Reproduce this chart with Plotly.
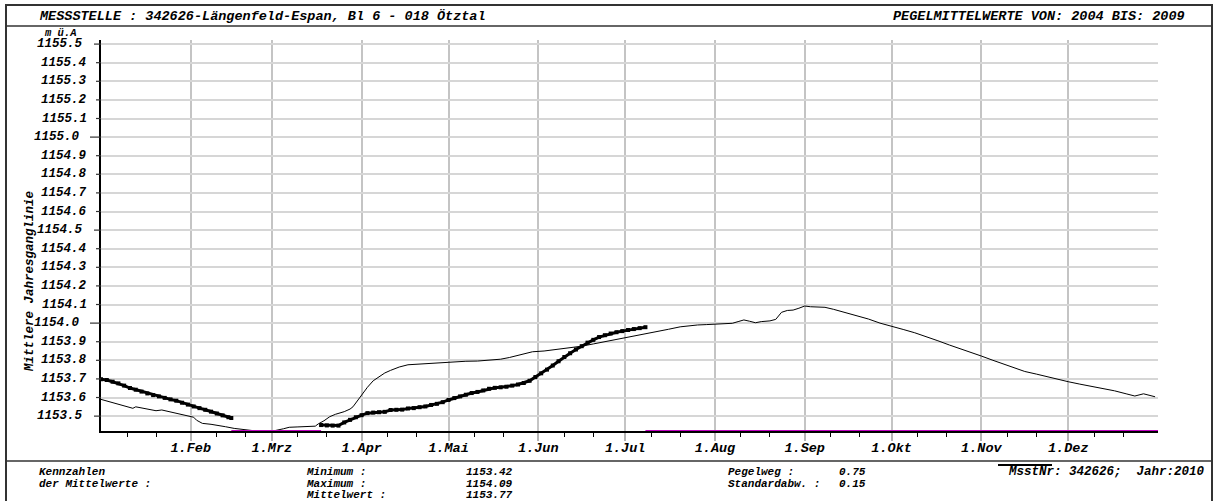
import pandas as pd
import plotly.graph_objects as go

# ---- data -------------------------------------------------------------
YEAR_START = pd.Timestamp("2010-01-01")

# mean annual hydrograph 2004-2009 (day of year, m ü.A.)
mean_days = [0, 4, 8, 11, 12, 15, 19, 21, 24, 26, 30, 32, 33, 35, 38, 40, 43, 46, 50, 53,
             56, 58, 60, 63, 65, 68, 72, 74, 75, 77, 79, 81, 84, 86, 87, 88, 90, 92, 94, 96,
             98, 100, 103, 106, 110, 114, 118, 122, 126, 130, 134, 138, 141, 145, 149, 153,
             158, 162, 166, 170, 174, 178, 181, 185, 189, 192, 196, 200, 203, 206, 209, 212,
             215, 218, 220, 222, 224, 226, 228, 231, 233, 235, 237, 239, 241, 243, 245, 248,
             250, 253, 257, 261, 265, 269, 273, 277, 281, 285, 289, 293, 297, 301, 304, 308,
             312, 316, 319, 323, 327, 331, 334, 338, 342, 346, 350, 354, 357, 360, 362, 364]
mean_level = [1153.590, 1153.572, 1153.556, 1153.542, 1153.550, 1153.540, 1153.529, 1153.533,
              1153.522, 1153.515, 1153.500, 1153.494, 1153.478, 1153.461, 1153.456, 1153.452,
              1153.443, 1153.434, 1153.425, 1153.421, 1153.420, 1153.420, 1153.422, 1153.432,
              1153.440, 1153.442, 1153.443, 1153.446, 1153.458, 1153.475, 1153.497, 1153.510,
              1153.524, 1153.538, 1153.550, 1153.572, 1153.615, 1153.655, 1153.690, 1153.712,
              1153.732, 1153.746, 1153.764, 1153.776, 1153.780, 1153.785, 1153.790, 1153.794,
              1153.795, 1153.796, 1153.800, 1153.806, 1153.815, 1153.830, 1153.846, 1153.850,
              1153.859, 1153.866, 1153.876, 1153.888, 1153.900, 1153.912, 1153.922, 1153.932,
              1153.942, 1153.952, 1153.967, 1153.980, 1153.986, 1153.990, 1153.992, 1153.995,
              1153.996, 1153.999, 1154.008, 1154.017, 1154.010, 1154.002, 1154.008, 1154.012,
              1154.020, 1154.058, 1154.068, 1154.070, 1154.080, 1154.092, 1154.088, 1154.085,
              1154.085, 1154.074, 1154.056, 1154.042, 1154.022, 1154.000, 1153.981, 1153.966,
              1153.948, 1153.928, 1153.905, 1153.882, 1153.862, 1153.840, 1153.823, 1153.800,
              1153.778, 1153.757, 1153.740, 1153.726, 1153.710, 1153.695, 1153.685, 1153.672,
              1153.660, 1153.650, 1153.636, 1153.620, 1153.608, 1153.620, 1153.612, 1153.604]

# current year 2010, first block (January to mid February)
y2010_a_days = [0, 2, 4, 6, 8, 10, 12, 14, 16, 18, 20, 22, 24, 26, 28, 30, 32, 34, 36, 38,
                40, 42, 44, 45]
y2010_a_level = [1153.698, 1153.694, 1153.685, 1153.676, 1153.664, 1153.651, 1153.642,
                 1153.632, 1153.622, 1153.613, 1153.606, 1153.598, 1153.590, 1153.583,
                 1153.572, 1153.562, 1153.552, 1153.543, 1153.534, 1153.524, 1153.514,
                 1153.504, 1153.494, 1153.490]

# current year 2010, second block (mid March to early July)
y2010_b_days = [76, 78, 80, 82, 84, 86, 88, 90, 92, 94, 96, 98, 100, 102, 104, 106, 108, 110,
                112, 114, 116, 118, 120, 122, 124, 126, 128, 130, 132, 134, 136, 138, 140, 142,
                144, 146, 148, 150, 152, 154, 156, 158, 160, 162, 164, 166, 168, 170, 172, 174,
                176, 178, 180, 182, 184, 186, 188]
y2010_b_level = [1153.452, 1153.450, 1153.449, 1153.449, 1153.466, 1153.480, 1153.494, 1153.505,
                 1153.516, 1153.519, 1153.521, 1153.523, 1153.533, 1153.534, 1153.535, 1153.541,
                 1153.543, 1153.548, 1153.552, 1153.560, 1153.566, 1153.575, 1153.587, 1153.597,
                 1153.606, 1153.615, 1153.624, 1153.630, 1153.638, 1153.647, 1153.652, 1153.655,
                 1153.658, 1153.664, 1153.670, 1153.678, 1153.690, 1153.710, 1153.730, 1153.750,
                 1153.772, 1153.795, 1153.818, 1153.838, 1153.858, 1153.876, 1153.895, 1153.910,
                 1153.925, 1153.935, 1153.944, 1153.951, 1153.957, 1153.963, 1153.968, 1153.973,
                 1153.978]

# 2010 periods without a plotted value (day ranges)
gap_ranges = [(45, 76), (188, 365)]

month_labels = ["1.Feb", "1.Mrz", "1.Apr", "1.Mai", "1.Jun", "1.Jul", "1.Aug", "1.Sep",
                "1.Okt", "1.Nov", "1.Dez"]
y_ticks = [1153.5, 1153.6, 1153.7, 1153.8, 1153.9, 1154.0, 1154.1, 1154.2, 1154.3, 1154.4,
           1154.5, 1154.6, 1154.7, 1154.8, 1154.9, 1155.0, 1155.1, 1155.2, 1155.3, 1155.4,
           1155.5]

stats_labels = ["Minimum :", "Maximum :", "Mittelwert :"]
stats_values = ["1153.42", "1154.09", "1153.77"]
spread_labels = ["Pegelweg :", "Standardabw. :"]
spread_values = ["0.75", "0.15"]

Y_MIN, Y_MAX = 1153.42, 1155.522

# ---- helpers ----------------------------------------------------------
W, H = 1215, 501
ML, MR, MT, MB = 101, 57, 40, 70


def to_date(days):
    return [YEAR_START + pd.Timedelta(days=d) for d in days]


def px(x):
    return (x - ML) / (W - ML - MR)


def py(y):
    return (H - MB - y) / (H - MT - MB)


def font(size):
    return dict(family="Liberation Mono", size=size, color="black",
                weight="bold", style="italic")


def label(x, y, text, anchor="left", size=13, **kw):
    return dict(xref="paper", yref="paper", x=px(x), y=py(y), text=text,
                xanchor=anchor, yanchor="middle", showarrow=False, font=font(size),
                borderpad=0, **kw)


# ---- figure -----------------------------------------------------------
fig = go.Figure()

fig.add_trace(go.Scatter(x=to_date(mean_days), y=mean_level, mode="lines",
                         line=dict(color="black", width=1), hoverinfo="skip"))

for d, v in [(y2010_a_days, y2010_a_level), (y2010_b_days, y2010_b_level)]:
    fig.add_trace(go.Scatter(x=to_date(d), y=v, mode="lines+markers",
                             line=dict(color="black", width=3),
                             marker=dict(symbol="square", size=4, color="black"),
                             hoverinfo="skip"))

for g0, g1 in gap_ranges:
    fig.add_trace(go.Scatter(x=to_date([g0, g1]), y=[Y_MIN, Y_MIN], mode="lines",
                             line=dict(color="#c000c0", width=2), hoverinfo="skip",
                             cliponaxis=False))

month_starts = [pd.Timestamp(2010, m, 1) for m in range(2, 13)]
minor_ticks = [pd.Timestamp(2010, m, d) for m in range(1, 13) for d in (10, 20)]

fig.update_xaxes(
    range=[YEAR_START, pd.Timestamp("2011-01-01")],
    tickmode="array", tickvals=month_starts, ticktext=month_labels,
    showgrid=True, gridcolor="#c4c4c4", gridwidth=2,
    ticks="outside", ticklen=8, tickwidth=2, tickcolor="#b4b4b4",
    ticklabelstandoff=-5,
    tickfont=font(13.5), showline=True, linecolor="black", linewidth=1.5,
    minor=dict(tickmode="array", tickvals=minor_ticks, ticks="outside", ticklen=4,
               tickwidth=1, tickcolor="black", showgrid=False),
    zeroline=False,
)
fig.update_yaxes(
    range=[Y_MIN, Y_MAX], tickmode="array", tickvals=y_ticks, showticklabels=False,
    showgrid=True, gridcolor="#d6d6d6", gridwidth=1.5, ticks="",
    showline=True, linecolor="black", linewidth=1.5, zeroline=False,
)

shapes = []
annotations = []

# y tick marks and labels
for v in y_ticks:
    tenth = round(v * 10) % 10
    if tenth == 0:
        edge, tick_from = 82, 90
    elif tenth == 5:
        edge, tick_from = 85, 94
    else:
        edge, tick_from = 89, 96
    shapes.append(dict(type="line", xref="paper", yref="y", x0=px(tick_from), x1=0,
                       y0=v, y1=v, line=dict(color="#333333", width=1.2)))
    annotations.append(dict(xref="paper", yref="y", x=px(edge), y=v, text=f"{v:.1f}",
                            xanchor="right", yanchor="middle", showarrow=False,
                            font=font(12.5)))

annotations.append(label(60, 33, "m ü.A", anchor="center", size=10.5))
annotations.append(label(30, 282, "Mittlere Jahresganglinie", anchor="center", size=12.5,
                         textangle=-90))

# header
annotations.append(label(38, 16, "MESSSTELLE : 342626-Längenfeld-Espan, Bl 6 - 018 Ötztal",
                         size=13.5))
annotations.append(label(1186, 16, "PEGELMITTELWERTE VON: 2004 BIS: 2009", anchor="right",
                         size=13.5))

# footer
FS = 11
rows = [472, 483.5, 495]
annotations.append(label(38, rows[0], "Kennzahlen", size=FS))
annotations.append(label(38, rows[1], "der Mittelwerte :", size=FS))
for i, (lab, val) in enumerate(zip(stats_labels, stats_values)):
    annotations.append(label(305, rows[i], lab, size=FS))
    annotations.append(label(465, rows[i], val, size=FS))
for i, (lab, val) in enumerate(zip(spread_labels, spread_values)):
    annotations.append(label(727, rows[i], lab, size=FS))
    annotations.append(label(838, rows[i], val, size=FS))
annotations.append(label(1206, rows[0], "MsstNr: 342626;  Jahr:2010", anchor="right",
                         size=12.5))
shapes.append(dict(type="line", xref="paper", yref="paper", x0=px(998), x1=px(1052),
                   y0=py(465), y1=py(465), line=dict(color="black", width=2)))

# frame and separators
shapes.append(dict(type="rect", xref="paper", yref="paper", x0=px(6), x1=px(1212),
                   y0=py(520), y1=py(5), line=dict(color="#333333", width=2)))
for yy in (26, 461):
    shapes.append(dict(type="line", xref="paper", yref="paper", x0=px(6), x1=px(1212),
                       y0=py(yy), y1=py(yy), line=dict(color="#333333", width=1.5)))

fig.update_layout(
    width=W, height=H, margin=dict(l=ML, r=MR, t=MT, b=MB),
    paper_bgcolor="white", plot_bgcolor="white", showlegend=False,
    font=font(13), shapes=shapes, annotations=annotations,
)

fig.write_html("out.html", include_plotlyjs=True, config={"displayModeBar": False})
